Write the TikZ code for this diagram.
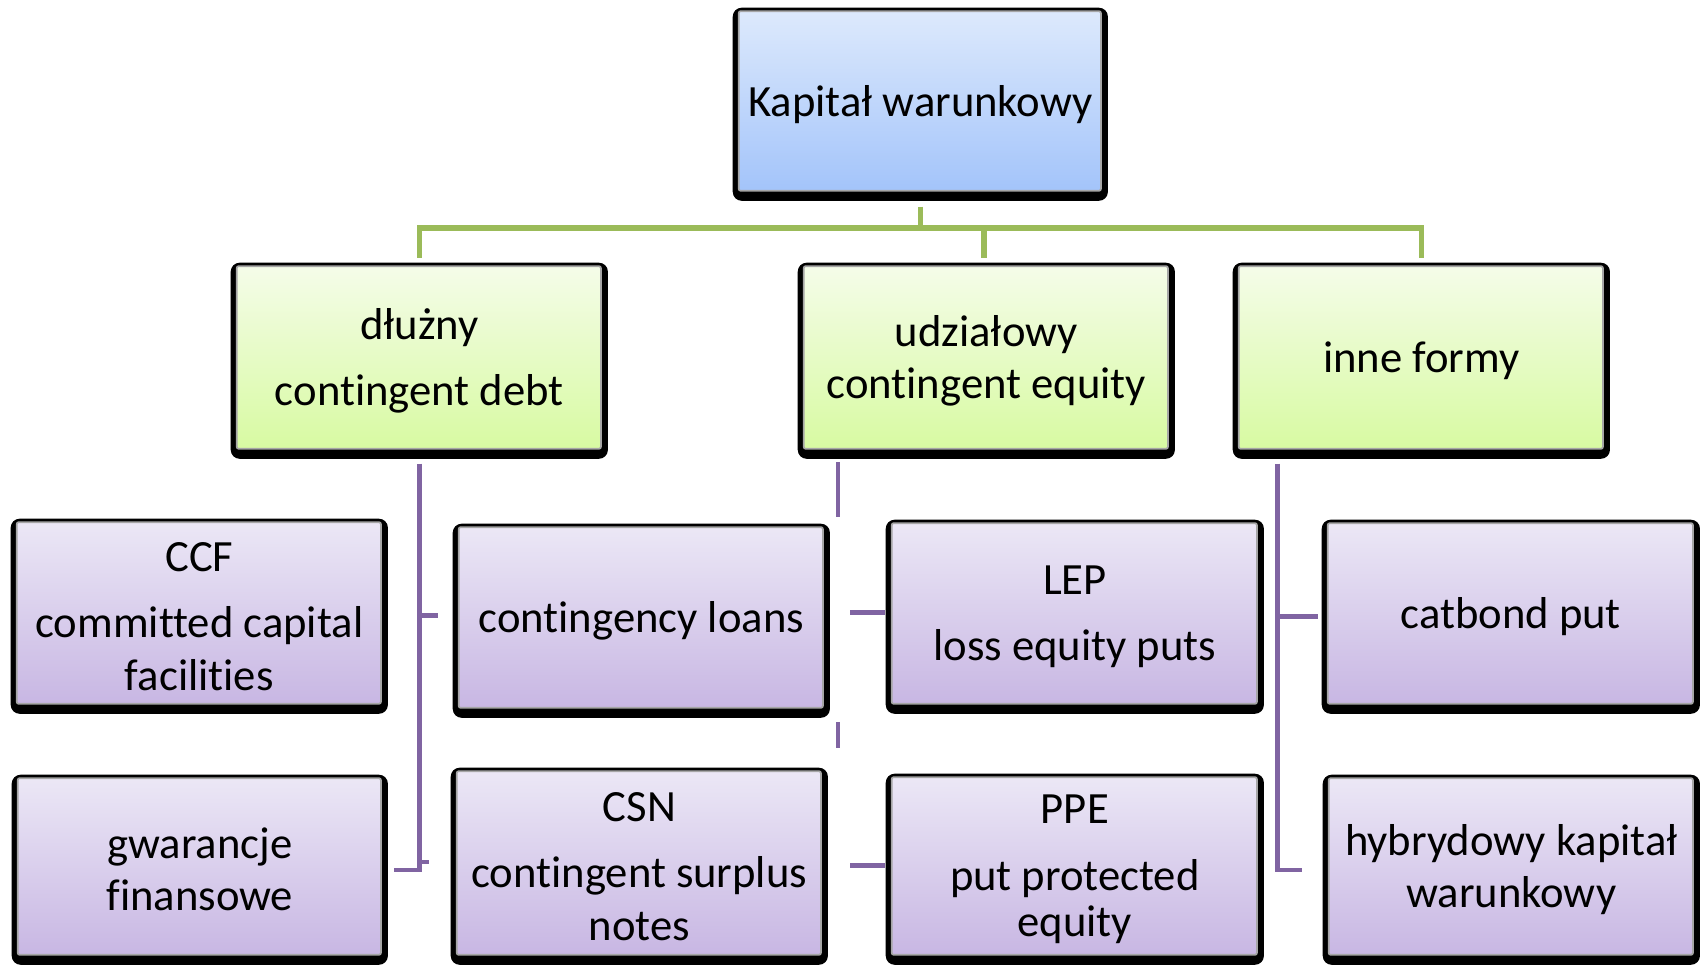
\documentclass[tikz,border=0pt]{standalone}
\usepackage{fontspec}
\setmainfont[Ligatures={NoCommon}]{Carlito}
\usetikzlibrary{calc}
\definecolor{bluetop}{RGB}{222,234,252}
\definecolor{bluebot}{RGB}{160,194,250}
\definecolor{greentop}{RGB}{245,252,234}
\definecolor{greenbot}{RGB}{214,250,158}
\definecolor{purptop}{RGB}{236,232,246}
\definecolor{purpbot}{RGB}{198,180,226}
\definecolor{lgreen}{RGB}{155,187,89}
\definecolor{lpurple}{RGB}{128,100,162}
\begin{document}
\begin{tikzpicture}[x=0.01cm,y=-0.01cm,
  box/.style n args={3}{rectangle, rounded corners=0.09cm, fill=black, inner sep=0pt,
    align=center, anchor=north west, text=black,
    font=\fontsize{12.7}{14.8}\selectfont,
    path picture={\shadedraw[top color=#1, bottom color=#2, draw=#3, line width=0.5pt, rounded corners=0.02cm]
      ([xshift=0.06cm,yshift=-0.035cm]path picture bounding box.north west) rectangle
      ([xshift=-0.07cm,yshift=0.1cm]path picture bounding box.south east);}},
  rootbox/.style={box={bluetop}{bluebot}{gray!70}},
  midbox/.style={box={greentop}{greenbot}{gray!70}},
  leafbox/.style={box={purptop}{purpbot}{gray!70}},
  gline/.style={draw=lgreen, line width=0.055cm},
  pline/.style={draw=lpurple, line width=0.045cm}
]
\useasboundingbox (0,0) rectangle (1700,965);

% top
\node[rootbox, minimum width=3.75cm, minimum height=1.93cm] (root) at (732,7) {Kapitał warunkowy};

% level 2
\node[midbox, minimum width=3.77cm, minimum height=1.96cm] (d) at (230,262) {dłużny\\[4.2pt]contingent debt};
\node[midbox, minimum width=3.77cm, minimum height=1.96cm] (u) at (797,262) {udziałowy\\contingent equity};
\node[midbox, minimum width=3.77cm, minimum height=1.96cm] (o) at (1232,262) {inne formy};

% level 3
\node[leafbox, minimum width=3.77cm, minimum height=1.95cm] (ccf) at (10,518) {CCF\\[4.2pt]committed capital\\facilities};
\node[leafbox, minimum width=3.76cm, minimum height=1.90cm] (gw) at (11,774) {gwarancje\\finansowe};
\node[leafbox, minimum width=3.77cm, minimum height=1.94cm] (cl) at (452,523) {contingency loans};
\node[leafbox, minimum width=3.77cm, minimum height=1.97cm] (csn) at (450,767) {CSN\\[4.2pt]contingent surplus\\notes};
\node[leafbox, minimum width=3.78cm, minimum height=1.94cm] (lep) at (885,519) {LEP\\[4.2pt]loss equity puts};
\node[leafbox, minimum width=3.78cm, minimum height=1.91cm] (ppe) at (885,773) {PPE\\[4.2pt]put protected\\[-1.6pt]equity};
\node[leafbox, minimum width=3.78cm, minimum height=1.94cm] (cat) at (1321,519) {catbond put};
\node[leafbox, minimum width=3.77cm, minimum height=1.90cm] (hyb) at (1322,774) {hybrydowy kapitał\\warunkowy};

% green connectors
\coordinate (bus) at (0,228);
\draw[gline] ([yshift=-0.05cm]root.south) -- (root.south |- bus);
\draw[gline] ([yshift=0.04cm]d.north) -- (d.north |- bus) -- (o.north |- bus) -- ([yshift=0.04cm]o.north);
\draw[gline] ([xshift=-0.025cm,yshift=0.04cm]u.north) -- ([xshift=-0.025cm]u.north |- bus);

% purple connectors: left group
\coordinate (lv) at ($(d.south)+(0,4)$);
\coordinate (s1) at ($(cl.west)+(-14,-5)$);
\draw[pline] (lv) |- ([xshift=0.05cm]gw.east);
\draw[pline] (lv |- s1) -- (s1);
\coordinate (t1) at ($(lv |- gw.east)+(10,-8)$);
\draw[pline] (lv |- t1) -- (t1);

% middle group
\coordinate (m1) at (838,462);
\coordinate (m2) at (838,517);
\coordinate (m3) at (838,722);
\coordinate (m4) at (838,748);
\draw[pline] (m1) -- (m2);
\draw[pline] (m3) -- (m4);
\coordinate (ms1) at ($(lep.west)+(-35,-4)$);
\coordinate (ms2) at ($(ppe.west)+(-35,-4)$);
\draw[pline] (ms1) -- (ms1 -| lep.west);
\draw[pline] (ms2) -- (ms2 -| ppe.west);

% right group
\coordinate (rv) at ($(o.south)+(-144,4)$);
\draw[pline] (rv) |- ([xshift=-0.2cm]hyb.west);
\draw[pline] (rv |- cat.west) -- ([xshift=-0.03cm]cat.west);
\end{tikzpicture}
\end{document}
